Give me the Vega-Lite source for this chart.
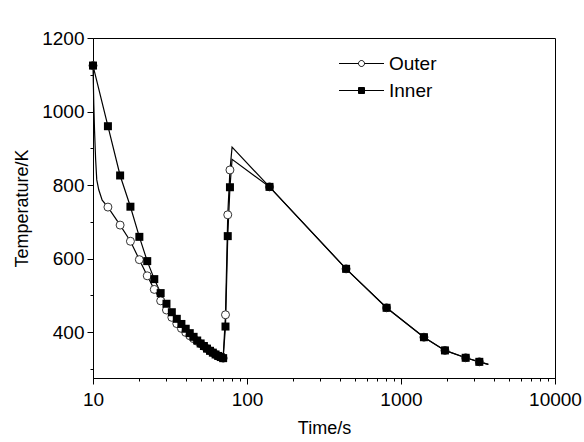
{
  "$schema": "https://vega.github.io/schema/vega-lite/v6.json",
  "width": 462,
  "height": 340,
  "autosize": "none",
  "padding": {"left": 93, "top": 38, "right": 29, "bottom": 64},
  "background": "white",
  "config": {
    "font": "Liberation Sans",
    "view": {"stroke": "black", "strokeWidth": 1},
    "axis": {
      "domainColor": "black", "domainWidth": 1, "tickColor": "black", "tickWidth": 1,
      "labelColor": "black", "labelFont": "Liberation Sans", "labelFontSize": 19,
      "titleColor": "black", "titleFont": "Liberation Sans", "titleFontSize": 18, "titleFontWeight": "normal",
      "grid": false, "labelOverlap": false, "labelFlush": false
    },
    "legend": {"labelFont": "Liberation Sans", "labelFontSize": 19, "labelColor": "black"}
  },
  "datasets": {
    "curve": [
      {"series": "Outer", "t": 10, "T": 1125},
      {"series": "Outer", "t": 10.05, "T": 1080},
      {"series": "Outer", "t": 10.12, "T": 1020},
      {"series": "Outer", "t": 10.23, "T": 950},
      {"series": "Outer", "t": 10.4, "T": 870},
      {"series": "Outer", "t": 10.58, "T": 814},
      {"series": "Outer", "t": 10.9, "T": 787},
      {"series": "Outer", "t": 11.47, "T": 759},
      {"series": "Outer", "t": 12.5, "T": 740},
      {"series": "Outer", "t": 15, "T": 691},
      {"series": "Outer", "t": 17.5, "T": 647},
      {"series": "Outer", "t": 20, "T": 597},
      {"series": "Outer", "t": 22.5, "T": 553},
      {"series": "Outer", "t": 25, "T": 516},
      {"series": "Outer", "t": 27.5, "T": 485},
      {"series": "Outer", "t": 30, "T": 460},
      {"series": "Outer", "t": 32.5, "T": 440},
      {"series": "Outer", "t": 35, "T": 423},
      {"series": "Outer", "t": 37.5, "T": 410},
      {"series": "Outer", "t": 40, "T": 399},
      {"series": "Outer", "t": 42.5, "T": 390},
      {"series": "Outer", "t": 45, "T": 382},
      {"series": "Outer", "t": 47.5, "T": 375},
      {"series": "Outer", "t": 50, "T": 368},
      {"series": "Outer", "t": 52.5, "T": 361},
      {"series": "Outer", "t": 55, "T": 355},
      {"series": "Outer", "t": 57.5, "T": 349},
      {"series": "Outer", "t": 60, "T": 344},
      {"series": "Outer", "t": 62.5, "T": 339},
      {"series": "Outer", "t": 65, "T": 335},
      {"series": "Outer", "t": 67.5, "T": 332},
      {"series": "Outer", "t": 70, "T": 329},
      {"series": "Outer", "t": 72.5, "T": 447},
      {"series": "Outer", "t": 75, "T": 719},
      {"series": "Outer", "t": 77.5, "T": 841},
      {"series": "Outer", "t": 80, "T": 903},
      {"series": "Outer", "t": 140, "T": 795},
      {"series": "Outer", "t": 440, "T": 572},
      {"series": "Outer", "t": 806, "T": 466},
      {"series": "Outer", "t": 1409, "T": 386},
      {"series": "Outer", "t": 1929, "T": 350},
      {"series": "Outer", "t": 2630, "T": 330},
      {"series": "Outer", "t": 3225, "T": 319},
      {"series": "Outer", "t": 3690, "T": 312},
      {"series": "Inner", "t": 10, "T": 1125},
      {"series": "Inner", "t": 12.5, "T": 960},
      {"series": "Inner", "t": 15, "T": 826},
      {"series": "Inner", "t": 17.5, "T": 741},
      {"series": "Inner", "t": 20, "T": 659},
      {"series": "Inner", "t": 22.5, "T": 593},
      {"series": "Inner", "t": 25, "T": 544},
      {"series": "Inner", "t": 27.5, "T": 506},
      {"series": "Inner", "t": 30, "T": 477},
      {"series": "Inner", "t": 32.5, "T": 454},
      {"series": "Inner", "t": 35, "T": 436},
      {"series": "Inner", "t": 37.5, "T": 422},
      {"series": "Inner", "t": 40, "T": 409},
      {"series": "Inner", "t": 42.5, "T": 397},
      {"series": "Inner", "t": 45, "T": 387},
      {"series": "Inner", "t": 47.5, "T": 377},
      {"series": "Inner", "t": 50, "T": 369},
      {"series": "Inner", "t": 52.5, "T": 362},
      {"series": "Inner", "t": 55, "T": 355},
      {"series": "Inner", "t": 57.5, "T": 349},
      {"series": "Inner", "t": 60, "T": 344},
      {"series": "Inner", "t": 62.5, "T": 339},
      {"series": "Inner", "t": 65, "T": 335},
      {"series": "Inner", "t": 67.5, "T": 332},
      {"series": "Inner", "t": 70, "T": 329},
      {"series": "Inner", "t": 72.5, "T": 415},
      {"series": "Inner", "t": 75, "T": 661},
      {"series": "Inner", "t": 77.5, "T": 794},
      {"series": "Inner", "t": 80, "T": 870},
      {"series": "Inner", "t": 140, "T": 795},
      {"series": "Inner", "t": 440, "T": 572},
      {"series": "Inner", "t": 806, "T": 466},
      {"series": "Inner", "t": 1409, "T": 386},
      {"series": "Inner", "t": 1929, "T": 350},
      {"series": "Inner", "t": 2630, "T": 330},
      {"series": "Inner", "t": 3225, "T": 319},
      {"series": "Inner", "t": 3690, "T": 312}
    ],
    "markers": [
      {"series": "Outer", "t": 10, "T": 1125},
      {"series": "Outer", "t": 12.5, "T": 740},
      {"series": "Outer", "t": 15, "T": 691},
      {"series": "Outer", "t": 17.5, "T": 647},
      {"series": "Outer", "t": 20, "T": 597},
      {"series": "Outer", "t": 22.5, "T": 553},
      {"series": "Outer", "t": 25, "T": 516},
      {"series": "Outer", "t": 27.5, "T": 485},
      {"series": "Outer", "t": 30, "T": 460},
      {"series": "Outer", "t": 32.5, "T": 440},
      {"series": "Outer", "t": 35, "T": 423},
      {"series": "Outer", "t": 37.5, "T": 410},
      {"series": "Outer", "t": 40, "T": 399},
      {"series": "Outer", "t": 42.5, "T": 390},
      {"series": "Outer", "t": 45, "T": 382},
      {"series": "Outer", "t": 47.5, "T": 375},
      {"series": "Outer", "t": 50, "T": 368},
      {"series": "Outer", "t": 52.5, "T": 361},
      {"series": "Outer", "t": 55, "T": 355},
      {"series": "Outer", "t": 57.5, "T": 349},
      {"series": "Outer", "t": 60, "T": 344},
      {"series": "Outer", "t": 62.5, "T": 339},
      {"series": "Outer", "t": 65, "T": 335},
      {"series": "Outer", "t": 67.5, "T": 332},
      {"series": "Outer", "t": 70, "T": 329},
      {"series": "Outer", "t": 72.5, "T": 447},
      {"series": "Outer", "t": 75, "T": 719},
      {"series": "Outer", "t": 77.5, "T": 841},
      {"series": "Outer", "t": 140, "T": 795},
      {"series": "Outer", "t": 440, "T": 572},
      {"series": "Outer", "t": 806, "T": 466},
      {"series": "Outer", "t": 1409, "T": 386},
      {"series": "Outer", "t": 1929, "T": 350},
      {"series": "Outer", "t": 2630, "T": 330},
      {"series": "Outer", "t": 3225, "T": 319},
      {"series": "Inner", "t": 10, "T": 1125},
      {"series": "Inner", "t": 12.5, "T": 960},
      {"series": "Inner", "t": 15, "T": 826},
      {"series": "Inner", "t": 17.5, "T": 741},
      {"series": "Inner", "t": 20, "T": 659},
      {"series": "Inner", "t": 22.5, "T": 593},
      {"series": "Inner", "t": 25, "T": 544},
      {"series": "Inner", "t": 27.5, "T": 506},
      {"series": "Inner", "t": 30, "T": 477},
      {"series": "Inner", "t": 32.5, "T": 454},
      {"series": "Inner", "t": 35, "T": 436},
      {"series": "Inner", "t": 37.5, "T": 422},
      {"series": "Inner", "t": 40, "T": 409},
      {"series": "Inner", "t": 42.5, "T": 397},
      {"series": "Inner", "t": 45, "T": 387},
      {"series": "Inner", "t": 47.5, "T": 377},
      {"series": "Inner", "t": 50, "T": 369},
      {"series": "Inner", "t": 52.5, "T": 362},
      {"series": "Inner", "t": 55, "T": 355},
      {"series": "Inner", "t": 57.5, "T": 349},
      {"series": "Inner", "t": 60, "T": 344},
      {"series": "Inner", "t": 62.5, "T": 339},
      {"series": "Inner", "t": 65, "T": 335},
      {"series": "Inner", "t": 67.5, "T": 332},
      {"series": "Inner", "t": 70, "T": 329},
      {"series": "Inner", "t": 72.5, "T": 415},
      {"series": "Inner", "t": 75, "T": 661},
      {"series": "Inner", "t": 77.5, "T": 794},
      {"series": "Inner", "t": 140, "T": 795},
      {"series": "Inner", "t": 440, "T": 572},
      {"series": "Inner", "t": 806, "T": 466},
      {"series": "Inner", "t": 1409, "T": 386},
      {"series": "Inner", "t": 1929, "T": 350},
      {"series": "Inner", "t": 2630, "T": 330},
      {"series": "Inner", "t": 3225, "T": 319}
    ]
  },
  "resolve": {"axis": {"y": "independent"}, "scale": {"y": "shared"}},
  "layer": [
    {
      "data": {"name": "curve"},
      "mark": {"type": "line", "color": "black", "strokeWidth": 1.2},
      "encoding": {
        "x": {
          "field": "t", "type": "quantitative",
          "scale": {"type": "log", "domain": [10, 10000], "nice": false},
          "axis": {
            "title": "Time/s", "format": "d",
            "values": [10, 20, 30, 40, 50, 60, 70, 80, 90, 100, 200, 300, 400, 500, 600, 700, 800, 900, 1000, 2000, 3000, 4000, 5000, 6000, 7000, 8000, 9000, 10000],
            "labelExpr": "indexof([10, 100, 1000, 10000], datum.value) >= 0 ? datum.label : ''",
            "tickSize": {"condition": {"test": "indexof([10, 100, 1000, 10000], datum.value) >= 0", "value": 6}, "value": 3},
            "labelPadding": 6, "titlePadding": 10
          }
        },
        "y": {
          "field": "T", "type": "quantitative",
          "scale": {"domain": [275, 1200], "nice": false, "zero": false},
          "axis": {
            "title": "Temperature/K", "orient": "left", "format": "d",
            "values": [400, 600, 800, 1000, 1200],
            "tickSize": 6, "labelPadding": 3, "titlePadding": 10
          }
        },
        "detail": {"field": "series", "type": "nominal"}
      }
    },
    {
      "data": {"name": "markers"},
      "transform": [{"filter": "datum.series == 'Outer'"}],
      "mark": {"type": "point", "shape": "circle", "size": 64, "filled": true, "fill": "white", "stroke": "#333333", "strokeWidth": 1, "opacity": 1},
      "encoding": {
        "x": {"field": "t", "type": "quantitative"},
        "y": {
          "field": "T", "type": "quantitative",
          "axis": {
            "title": null, "orient": "left", "labels": false, "domain": false,
            "values": [300, 500, 700, 900, 1100], "tickSize": 3
          }
        }
      }
    },
    {
      "data": {"name": "markers"},
      "transform": [{"filter": "datum.series == 'Inner'"}],
      "mark": {"type": "point", "shape": "square", "size": 64, "filled": true, "color": "black", "opacity": 1},
      "encoding": {
        "x": {"field": "t", "type": "quantitative"},
        "y": {"field": "T", "type": "quantitative", "axis": null}
      }
    },
    {
      "data": {"name": "markers"},
      "transform": [{"filter": "false"}],
      "mark": {"type": "point", "filled": true, "strokeWidth": 1, "opacity": 1},
      "encoding": {
        "x": {"field": "t", "type": "quantitative"},
        "y": {"field": "T", "type": "quantitative", "axis": null},
        "shape": {
          "field": "series", "type": "nominal",
          "scale": {
            "domain": ["Outer", "Inner"],
            "range": [
              "M-2.25,0H-0.3M0.3,0H2.25M-0.3,0A0.3,0.3 0 1,0 0.3,0A0.3,0.3 0 1,0 -0.3,0Z",
              "M-2.25,0H2.25M-0.3,-0.3H0.3V0.3H-0.3Z"
            ]
          },
          "legend": {
            "title": null, "orient": "none", "legendX": 258, "legendY": 15,
            "symbolSize": 400, "symbolStrokeWidth": 1,
            "labelOffset": 17, "rowPadding": 6, "symbolOpacity": 1
          }
        },
        "fill": {
          "field": "series", "type": "nominal",
          "scale": {"domain": ["Outer", "Inner"], "range": ["white", "black"]},
          "legend": {
            "title": null, "orient": "none", "legendX": 258, "legendY": 15,
            "symbolSize": 400, "symbolStrokeWidth": 1,
            "labelOffset": 17, "rowPadding": 6, "symbolOpacity": 1
          }
        },
        "stroke": {
          "field": "series", "type": "nominal",
          "scale": {"domain": ["Outer", "Inner"], "range": ["black", "black"]},
          "legend": {
            "title": null, "orient": "none", "legendX": 258, "legendY": 15,
            "symbolSize": 400, "symbolStrokeWidth": 1,
            "labelOffset": 17, "rowPadding": 6, "symbolOpacity": 1
          }
        }
      }
    }
  ]
}
